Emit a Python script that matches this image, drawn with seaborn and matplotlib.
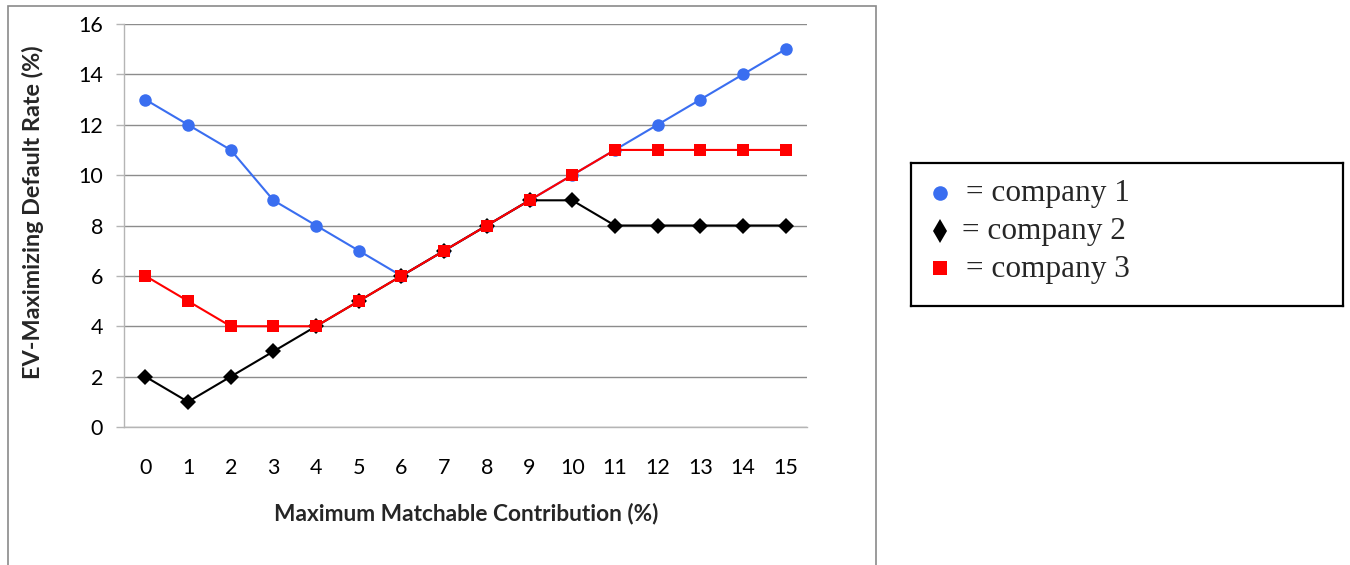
import matplotlib
matplotlib.use("Agg")
import matplotlib.pyplot as plt
import matplotlib.patches as mpatches
import seaborn as sns
import pandas as pd
import numpy as np

# ---- data ----
contribution = list(range(16))
company1 = [13, 12, 11, 9, 8, 7, 6, 7, 8, 9, 10, 11, 12, 13, 14, 15]
company2 = [2, 1, 2, 3, 4, 5, 6, 7, 8, 9, 9, 8, 8, 8, 8, 8]
company3 = [6, 5, 4, 4, 4, 5, 6, 7, 8, 9, 10, 11, 11, 11, 11, 11]
series_names = ["company 1", "company 2", "company 3"]
y_ticks = list(range(0, 17, 2))
x_label = "Maximum Matchable Contribution (%)"
y_label = "EV-Maximizing Default Rate (%)"

colors = {"company 1": "#3A6EF0", "company 2": "#000000", "company 3": "#FF0000"}
markers = {"company 1": "o", "company 2": "D", "company 3": "s"}

df = pd.DataFrame({
    "x": contribution * 3,
    "y": company1 + company2 + company3,
    "company": sum([[n] * len(contribution) for n in series_names], []),
})

sns.set_theme(style="white")
plt.rcParams["font.family"] = ["Lato", "DejaVu Sans"]

W, H = 1350, 565
fig = plt.figure(figsize=(W / 100, H / 100), dpi=100)

def fx(px):
    return px / W

def fy(py):
    return 1 - py / H

# outer chart border
fig.add_artist(mpatches.Rectangle((fx(8), fy(600)), fx(876) - fx(8), fy(6) - fy(600),
                                  transform=fig.transFigure, fill=False,
                                  edgecolor="#8a8a8a", lw=1.2, zorder=0))

ax_l, ax_r, ax_t, ax_b = 124, 807, 24, 427
ax = fig.add_axes([fx(ax_l), fy(ax_b), fx(ax_r) - fx(ax_l), fy(ax_t) - fy(ax_b)])

marker_sizes = {"company 1": 9, "company 2": 8.5, "company 3": 8.5}
for name in series_names:
    sub = df[df["company"] == name]
    sns.lineplot(data=sub, x="x", y="y", ax=ax, color=colors[name],
                 marker=markers[name], markersize=marker_sizes[name], markeredgewidth=0,
                 linewidth=1.5, legend=False, zorder=3)

ax.set_xlim(-0.5, 15.5)
ax.set_ylim(0, 16)
ax.set_yticks(y_ticks)
ax.set_xticks(contribution)
ax.set_xticks(np.arange(-0.5, 16, 1), minor=True)
ax.yaxis.grid(True, color="#8c8c8c", lw=1.0)
ax.set_axisbelow(True)
for s in ["top", "right"]:
    ax.spines[s].set_visible(False)
for s in ["left", "bottom"]:
    ax.spines[s].set_color("#b5b5b5")
    ax.spines[s].set_linewidth(1.0)

ax.tick_params(axis="x", which="major", length=0, pad=22, labelsize=15.5, colors="black")
ax.tick_params(axis="x", which="minor", length=6, width=1, color="#b5b5b5", direction="out")
ax.tick_params(axis="y", which="major", length=6, width=1, color="#b5b5b5",
               direction="out", pad=9, labelsize=15.5, labelcolor="black", left=True)

ax.set_xlabel("")
ax.set_ylabel("")
fig.text(fx(466), fy(513), x_label, ha="center", va="center",
         fontsize=16.3, fontweight="bold")
fig.text(fx(33), fy(212), y_label, ha="center", va="center", rotation=90,
         fontsize=16.8, fontweight="bold")

# legend box
lg = fig.add_axes([fx(911), fy(306), fx(1343) - fx(911), fy(163) - fy(306)])
lg.set_xlim(911, 1343)
lg.set_ylim(306, 163)
lg.set_xticks([])
lg.set_yticks([])
for s in lg.spines.values():
    s.set_visible(True)
    s.set_color("black")
    s.set_linewidth(1.6)
rows_y = [193, 231, 268]
lg_markers = {"company 1": "o", "company 2": "d", "company 3": "s"}
lg_ms = {"company 1": 10.5, "company 2": 12, "company 3": 10.5}
text_x = {"company 1": 966, "company 2": 962, "company 3": 966}
for name, yy in zip(series_names, rows_y):
    lg.plot([940], [yy], marker=lg_markers[name], color=colors[name],
            markersize=lg_ms[name], markeredgewidth=0, linestyle="none")
    lg.text(text_x[name], yy + 1, "= " + name, ha="left", va="center",
            fontsize=22.5, family=["Liberation Serif"])

fig.savefig("out.png", dpi=100)
